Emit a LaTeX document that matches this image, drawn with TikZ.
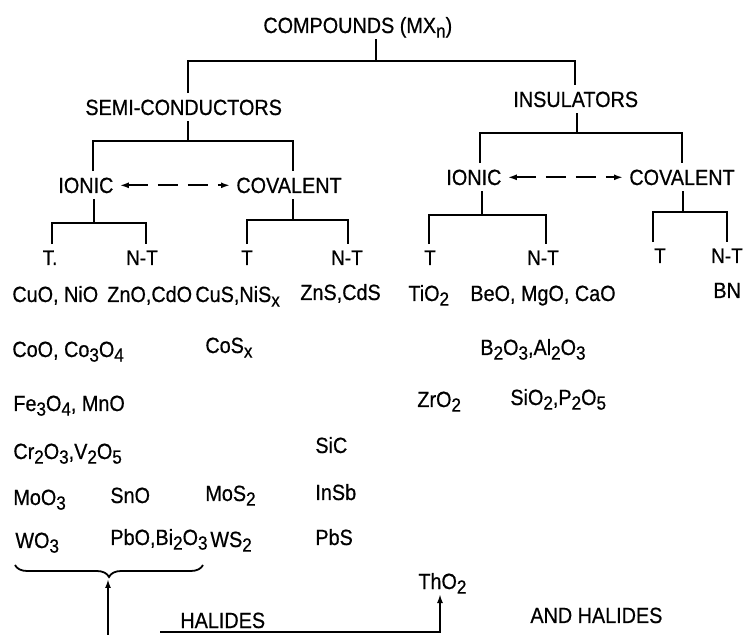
\documentclass[tikz,border=0pt]{standalone}
\usepackage{fontspec}
\setmainfont{Liberation Sans}[FakeStretch=0.9,FakeBold=0.6]
\usetikzlibrary{arrows.meta,decorations.pathreplacing}
\newcommand\sbs[1]{\raisebox{-2.3pt}{\fontsize{9.5}{9.5}\selectfont #1}}
\tikzset{every node/.style={font=\fontsize{11}{13}\selectfont},
 head/.style={anchor=base west,inner sep=3pt,text depth=0pt},
 leaf/.style={anchor=base,inner sep=3pt,text depth=0pt,font=\fontsize{10.5}{12}\selectfont},
 cmp/.style={anchor=base west,inner sep=0pt},
 tree/.style={line width=0.9pt},
 interlink/.style={line width=0.9pt,dash pattern=on 10pt off 5pt,
  {Latex[length=4.5pt,width=3pt]}-{Latex[length=4.5pt,width=3pt]}},
 feed/.style={line width=0.9pt,-{Latex[length=4.5pt,width=3pt]}}}

\begin{document}
\begin{tikzpicture}[x=0.5pt,y=-0.5pt]
\useasboundingbox (0,0) rectangle (744,635);
\node[head] (comp) at (257,33) {COMPOUNDS (MX\sbs{n})};
\node[head] (semi) at (79,115) {SEMI-CONDUCTORS};
\node[head] (ins) at (507,107) {INSULATORS};
\node[head] (sion) at (52,193) {IONIC};
\node[head] (scov) at (230,193) {COVALENT};
\node[head] (iion) at (440,185) {IONIC};
\node[head] (icov) at (623,185) {COVALENT};
\node[leaf] (st1) at (50,265) {T.};
\node[leaf] (sn1) at (142,265) {N-T};
\node[leaf] (st2) at (247,265) {T};
\node[leaf] (sn2) at (347,265) {N-T};
\node[leaf] (it1) at (430,265) {T};
\node[leaf] (in1) at (543,265) {N-T};
\node[leaf] (it2) at (660,263) {T};
\node[leaf] (in2) at (727,263) {N-T};

\coordinate (j0) at (376,61); \coordinate (j0l) at (188,61); \coordinate (j0r) at (575,61);
\coordinate (j1) at (188,141); \coordinate (j1l) at (93,141); \coordinate (j1r) at (293,141);
\coordinate (j2) at (94,223); \coordinate (j2l) at (52,223); \coordinate (j2r) at (146,223);
\coordinate (j3) at (293,220); \coordinate (j3l) at (247,220); \coordinate (j3r) at (348,220);
\coordinate (j4) at (577,133); \coordinate (j4l) at (480,133); \coordinate (j4r) at (682,133);
\coordinate (j5) at (482,215); \coordinate (j5l) at (429,215); \coordinate (j5r) at (546,215);
\coordinate (j6) at (683,212); \coordinate (j6l) at (653,212); \coordinate (j6r) at (727,212);

\draw[tree] (comp.south -| j0) -- (j0);
\draw[tree] (semi.north -| j0l) -- (j0l) -- (j0r) -- (ins.north -| j0r);
\draw[tree] (semi.south -| j1) -- (j1);
\draw[tree] (sion.north -| j1l) -- (j1l) -- (j1r) -- (scov.north -| j1r);
\draw[tree] (sion.south -| j2) -- (j2);
\draw[tree] (st1.north -| j2l) -- (j2l) -- (j2r) -- (sn1.north -| j2r);
\draw[tree] (scov.south -| j3) -- (j3);
\draw[tree] (st2.north -| j3l) -- (j3l) -- (j3r) -- (sn2.north -| j3r);
\draw[tree] (ins.south -| j4) -- (j4);
\draw[tree] (iion.north -| j4l) -- (j4l) -- (j4r) -- (icov.north -| j4r);
\draw[tree] (iion.south -| j5) -- (j5);
\draw[tree] (it1.north -| j5l) -- (j5l) -- (j5r) -- (in1.north -| j5r);
\draw[tree] (icov.south -| j6) -- (j6);
\draw[tree] (it2.north -| j6l) -- (j6l) -- (j6r) -- (in2.north -| j6r);
\draw[interlink] (sion.east) -- (scov.west);
\draw[interlink] (iion.east) -- (icov.west);

\node[cmp] (f1) at (12,302) {CuO, NiO};
\node[cmp] (f2) at (107,302) {ZnO,CdO};
\node[cmp] (f3) at (195,302) {CuS,NiS\sbs{x}};
\node[cmp] (f4) at (300,300) {ZnS,CdS};
\node[cmp] (f5) at (408,301) {TiO\sbs{2}};
\node[cmp] (f6) at (470,301) {BeO, MgO, CaO};
\node[cmp] (f7) at (713,298) {BN};
\node[cmp] (f8) at (12,357) {CoO, Co\sbs{3}O\sbs{4}};
\node[cmp] (f9) at (205,353) {CoS\sbs{x}};
\node[cmp] (f10) at (480,355) {B\sbs{2}O\sbs{3},Al\sbs{2}O\sbs{3}};
\node[cmp] (f11) at (13,411) {Fe\sbs{3}O\sbs{4}, MnO};
\node[cmp] (f12) at (417,407) {ZrO\sbs{2}};
\node[cmp] (f13) at (510,405) {SiO\sbs{2},P\sbs{2}O\sbs{5}};
\node[cmp] (f14) at (13,459) {Cr\sbs{2}O\sbs{3},V\sbs{2}O\sbs{5}};
\node[cmp] (f15) at (315,453) {SiC};
\node[cmp] (f16) at (13,505) {MoO\sbs{3}};
\node[cmp] (f17) at (110,503) {SnO};
\node[cmp] (f18) at (205,501) {MoS\sbs{2}};
\node[cmp] (f19) at (315,500) {InSb};
\node[cmp] (f20) at (15,548) {WO\sbs{3}};
\node[cmp] (f21) at (110,545) {PbO,Bi\sbs{2}O\sbs{3}};
\node[cmp] (f22) at (210,547) {WS\sbs{2}};
\node[cmp] (f23) at (315,545) {PbS};
\node[cmp] (tho) at (418,589) {ThO\sbs{2}};
\node[cmp] (hal) at (180,628) {HALIDES};
\node[cmp] (andhal) at (530,623) {AND HALIDES};

\draw[tree,decorate,decoration={brace,mirror,amplitude=6pt}] (15,565) -- (203,565);
\coordinate (brtip) at (108,579);
\coordinate (hb) at (108,635);
\coordinate (hl) at (160,632); \coordinate (hr) at (440,632);
\draw[feed] (hb) -- (brtip);
\draw[feed] (hl) -- (hr) -- (tho.south -| hr);
\end{tikzpicture}
\end{document}
